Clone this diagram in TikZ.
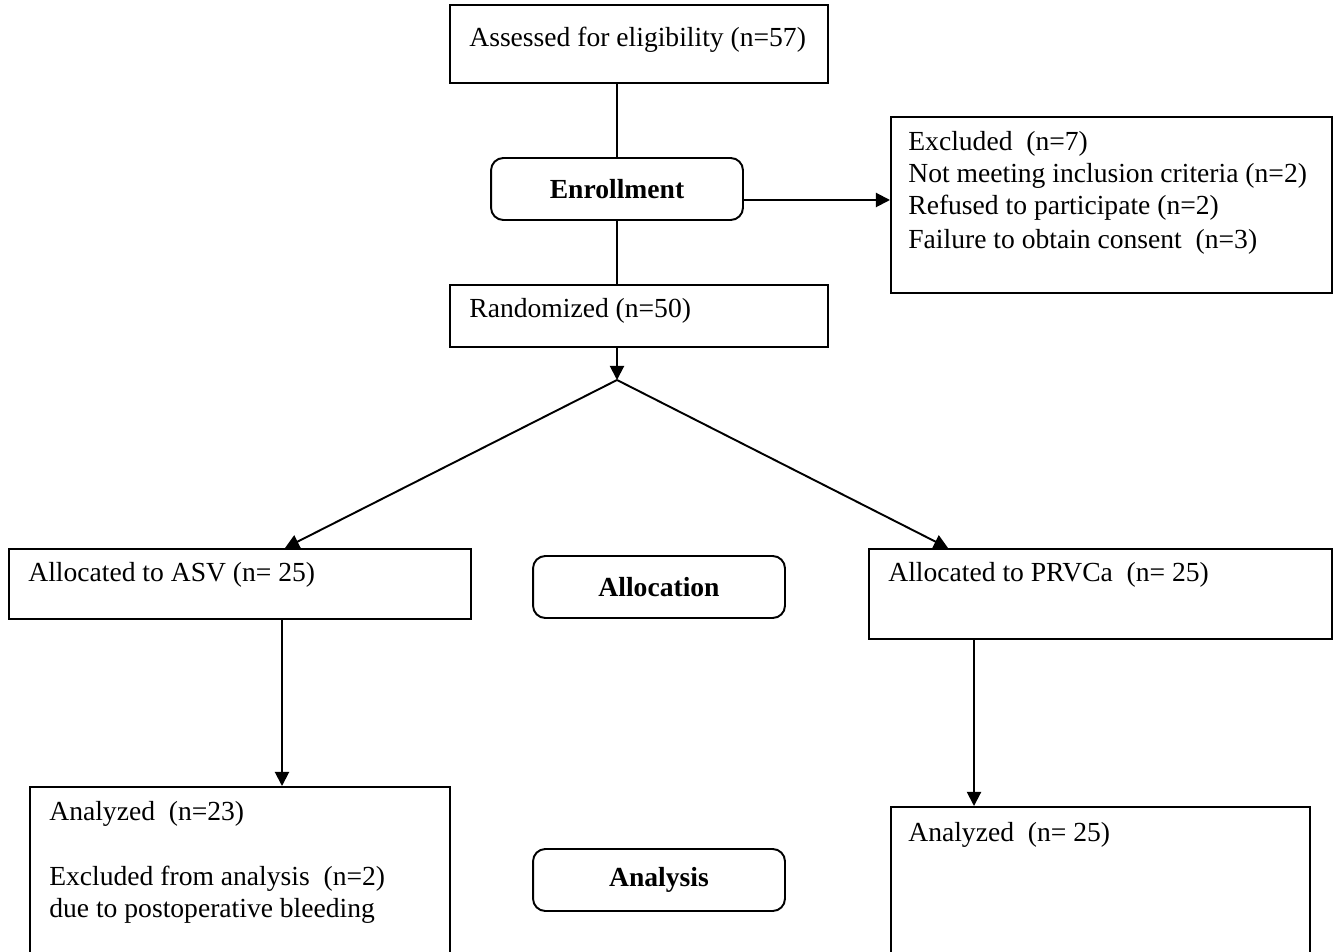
\documentclass[tikz,border=0pt]{standalone}
\usepackage{fontspec}
\setmainfont{Liberation Serif}
\usetikzlibrary{arrows,arrows.meta,shapes,calc}

\begin{document}
\begin{tikzpicture}[x=0.02cm, y=-0.02cm,
                    every node/.style = {font=\fontsize{15.7}{18.2}\selectfont},
                    box/.style = {draw, line width=1.1pt, anchor=north west, inner sep=0pt},
                    phase/.style = {draw, line width=1.1pt, rounded corners=7pt, minimum width=5.04cm,
                                    minimum height=1.24cm, font=\fontsize{15.7}{18.2}\selectfont\bfseries},
                    txt/.style = {anchor=north west, inner sep=0pt, align=left},
                    line/.style = {line width=1.1pt},
                    arr/.style = {line width=1.1pt, -{Triangle[length=8pt,width=8pt]}}]
                    \useasboundingbox (0,0) rectangle (1334,952);
                    \clip (0,0) rectangle (1334,952);
                    % boxes
                    \node[box, minimum width=7.56cm, minimum height=1.56cm] (assess) at (449,4) {};
                    \node[phase] (enrol) at (617,189) {Enrollment};
                    \node[box, minimum width=8.82cm, minimum height=3.52cm] (excl) at (890,116) {};
                    \node[box, minimum width=7.56cm, minimum height=1.24cm] (rand) at (449,284) {};
                    \node[box, minimum width=9.24cm, minimum height=1.40cm] (asv) at (8,548) {};
                    \node[phase] (alloc) at (659,587) {Allocation};
                    \node[box, minimum width=9.26cm, minimum height=1.80cm] (prv) at (868,548) {};
                    \node[box, minimum width=8.40cm, minimum height=4cm] (anl) at (29,786) {};
                    \node[phase] (anal) at (659,880) {Analysis};
                    \node[box, minimum width=8.38cm, minimum height=4cm] (anr) at (890,806) {};
                    % texts
                    \node[txt] (tassess) at ($(assess.north west)+(20,23)$) {Assessed for eligibility (n=57)};
                    \node[txt] (texcl) at ($(excl.north west)+(18,15)$) {Excluded\ \ (n=7)\\
                        Not meeting inclusion criteria (n=2)\\
                        Refused to participate (n=2)\\[1pt]
                        Failure to obtain consent\ \ (n=3)};
                    \node[txt] (trand) at ($(rand.north west)+(20,14)$) {Randomized (n=50)};
                    \node[txt] (tasv) at ($(asv.north west)+(20,14)$) {Allocated to ASV (n= 25)};
                    \node[txt] (tprv) at ($(prv.north west)+(20,14)$) {Allocated to PRVCa\ \ (n= 25)};
                    \node[txt] (tanl) at ($(anl.north west)+(20,15)$) {Analyzed\ \ (n=23)\\[18.6pt]
                        Excluded from analysis\ \ (n=2)\\
                        due to postoperative bleeding};
                    \node[txt] (tanr) at ($(anr.north west)+(18,16)$) {Analyzed\ \ (n= 25)};
                    % connectors
                    \coordinate (split) at (617,380);
                    \coordinate (asvin) at (285,548);
                    \coordinate (prvin) at (948,548);
                    \coordinate (asvout) at (282,618);
                    \coordinate (prvout) at (974,638);
                    \coordinate (enrout) at (743,200);
                    \draw[line] (enrol.north) -- (enrol.north |- assess.south);
                    \draw[line] (enrol.south) -- (enrol.south |- rand.north);
                    \draw[arr] (enrout) -- (enrout -| excl.west);
                    \draw[arr] (split |- rand.south) -- (split);
                    \draw[arr] (split) -- (asvin);
                    \draw[arr] (split) -- (prvin);
                    \draw[arr] (asvout) -- (asvout |- anl.north);
                    \draw[arr] (prvout) -- (prvout |- anr.north);
                \end{tikzpicture}
\end{document}
